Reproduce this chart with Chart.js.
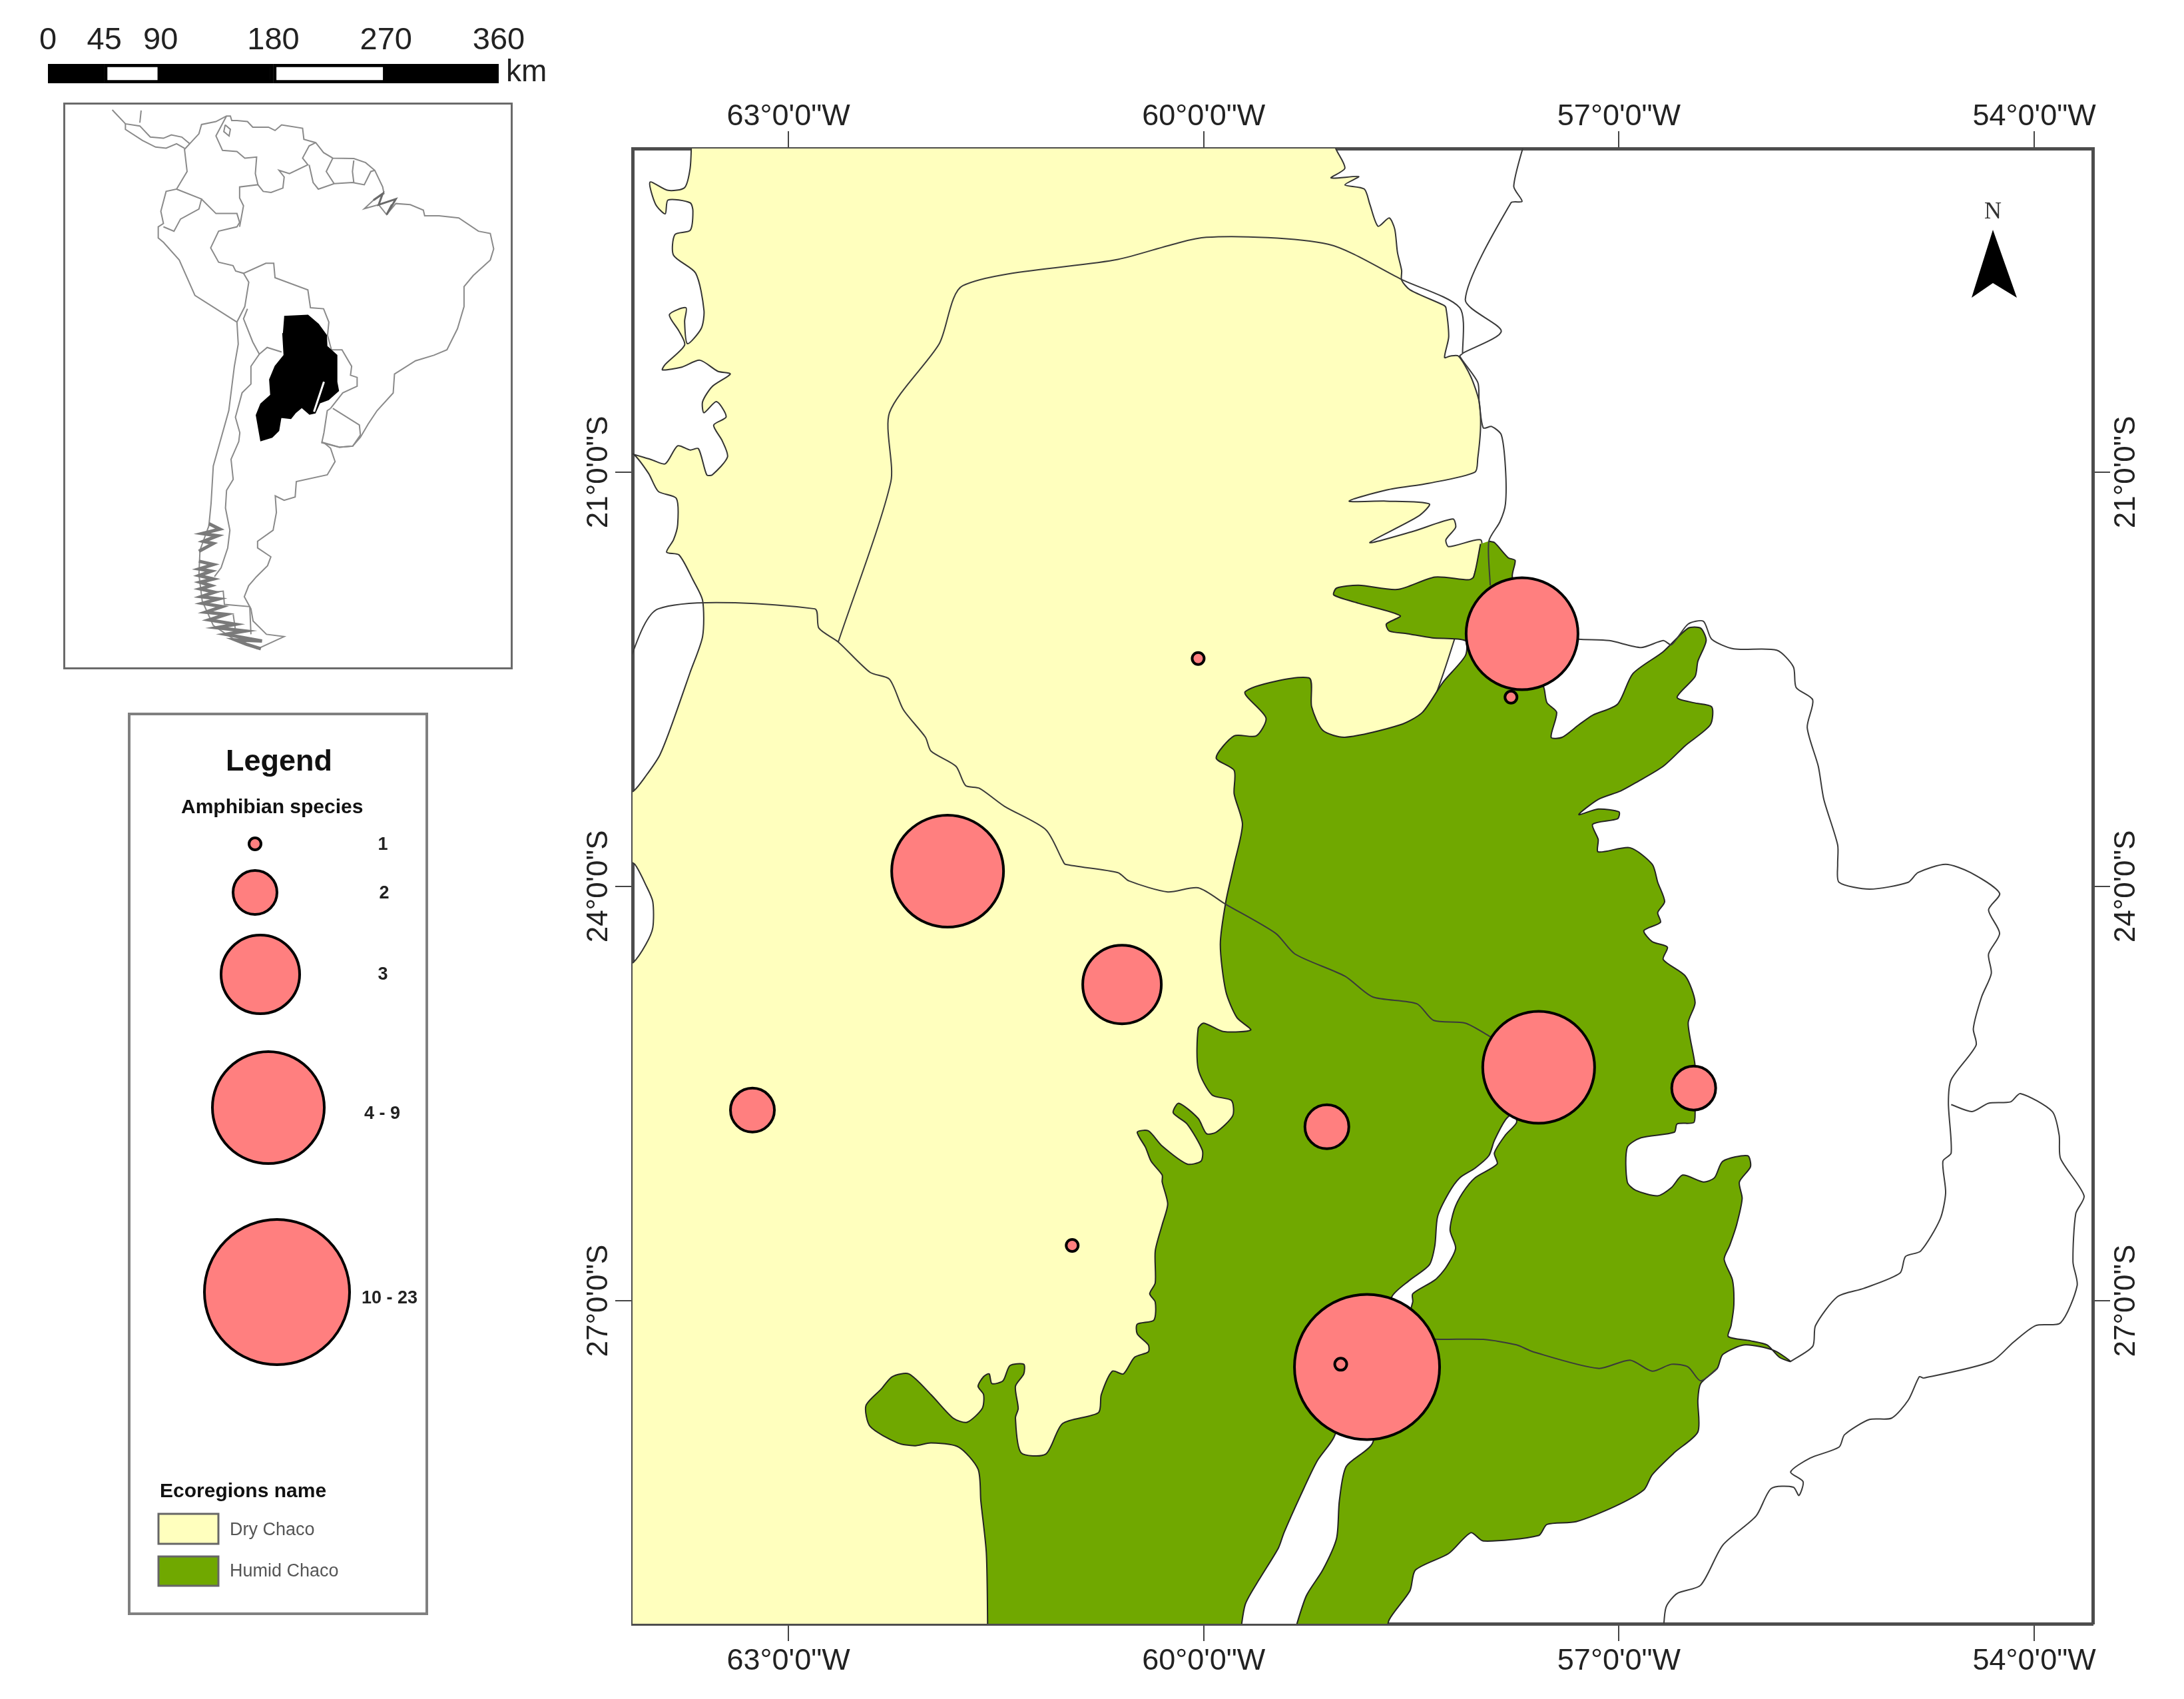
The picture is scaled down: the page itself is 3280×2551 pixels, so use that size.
<!DOCTYPE html>
<html>
<head>
<meta charset="utf-8">
<title>Amphibian species in the Chaco</title>
<script src="https://cdn.jsdelivr.net/npm/chart.js@4/dist/chart.umd.min.js"></script>
<style>
  body { margin: 0; background: #fff; }
  #page { position: relative; width: 3280px; height: 2551px; overflow: hidden; }
  canvas { position: absolute; }
  #mapChart { left: 0; top: 0; }
  #scaleBar { left: 0; top: 0; }
  #insetMap { left: 98px; top: 157px; outline: 3px solid #6a6a6a; }
</style>
</head>
<body>
<div id="page">
  <canvas id="mapChart" width="3280" height="2551"></canvas>
  <canvas id="scaleBar" width="900" height="130"></canvas>
  <canvas id="insetMap" width="669" height="845"></canvas>
</div>
<script>
// Axis ticks (degrees, south and west negative)
const lonTicks = [-63, -60, -57, -54];
const latTicks = [-21, -24, -27];

// Survey sites
const siteLon = [-58.82, -57.70, -61.85, -57.58, -60.59, -63.26, -59.11, -56.46, -57.78, -60.04, -60.95, -59.01];
const siteLat = [-27.48, -22.17, -23.89, -25.31, -24.71, -25.62, -25.74, -25.46, -22.63, -22.35, -26.60, -27.46];
const siteClass = [4, 3, 3, 3, 2, 1, 1, 1, 0, 0, 0, 0];
const classLabels = ['1', '2', '3', '4 - 9', '10 - 23'];

// Ecoregions
const dryChaco = [
  [-63.70, -18.60], [-63.71, -18.80], [-63.75, -18.94], [-63.87, -18.96], [-64.00, -18.90], [-63.96, -19.06],
  [-63.89, -19.13], [-63.87, -19.03], [-63.71, -19.05], [-63.69, -19.11], [-63.71, -19.25], [-63.82, -19.28],
  [-63.83, -19.43], [-63.67, -19.56], [-63.61, -19.83], [-63.63, -19.96], [-63.73, -20.07], [-63.75, -19.91],
  [-63.74, -19.81], [-63.86, -19.86], [-63.79, -19.98], [-63.75, -20.08], [-63.89, -20.22], [-63.91, -20.26],
  [-63.77, -20.24], [-63.64, -20.19], [-63.51, -20.27], [-63.42, -20.29], [-63.55, -20.38], [-63.62, -20.49],
  [-63.61, -20.57], [-63.52, -20.49], [-63.45, -20.60], [-63.54, -20.66], [-63.48, -20.77], [-63.44, -20.89],
  [-63.55, -21.02], [-63.59, -21.02], [-63.65, -20.83], [-63.71, -20.84], [-63.80, -20.81], [-63.89, -20.94],
  [-63.99, -20.91], [-64.20, -20.85], [-64.20, -20.87], [-64.12, -20.87], [-64.01, -21.01], [-63.94, -21.14],
  [-63.81, -21.19], [-63.80, -21.38], [-63.83, -21.49], [-63.88, -21.58], [-63.79, -21.60], [-63.69, -21.78],
  [-63.62, -21.93], [-63.62, -22.19], [-63.71, -22.45], [-63.85, -22.85], [-63.93, -23.05], [-64.03, -23.20],
  [-64.12, -23.31], [-64.20, -23.33], [-64.20, -23.78], [-64.11, -23.84], [-64.03, -23.99], [-63.98, -24.11],
  [-63.98, -24.30], [-64.03, -24.42], [-64.12, -24.55], [-64.20, -24.58], [-64.20, -29.50], [-59.50, -29.50],
  [-59.50, -24.00], [-58.50, -23.00], [-58.00, -21.60], [-58.00, -21.49], [-58.23, -21.54], [-58.25, -21.49],
  [-58.18, -21.40], [-58.20, -21.34], [-58.49, -21.43], [-58.80, -21.51], [-58.45, -21.32], [-58.37, -21.23],
  [-58.68, -21.21], [-58.95, -21.21], [-58.68, -21.13], [-58.37, -21.08], [-58.04, -21.00], [-58.02, -20.90],
  [-58.00, -20.68], [-58.01, -20.49], [-58.07, -20.31], [-58.16, -20.16], [-58.22, -20.16], [-58.26, -20.17],
  [-58.23, -20.02], [-58.25, -19.81], [-58.27, -19.79], [-58.51, -19.68], [-58.57, -19.61], [-58.57, -19.54],
  [-58.60, -19.41], [-58.62, -19.24], [-58.66, -19.16], [-58.74, -19.22], [-58.80, -19.06], [-58.84, -18.95],
  [-58.98, -18.92], [-58.88, -18.86], [-59.08, -18.87], [-58.98, -18.80], [-59.04, -18.67], [-59.07, -18.60],
  [-59.07, -18.45], [-63.70, -18.45]
];
const humidChaco = [
  [-57.94, -21.50], [-57.90, -21.51], [-57.80, -21.62], [-57.75, -21.64], [-57.77, -21.76], [-57.54, -22.57],
  [-57.52, -22.67], [-57.45, -22.74], [-57.49, -22.92], [-57.41, -22.92], [-57.29, -22.83], [-57.19, -22.76],
  [-57.01, -22.68], [-56.90, -22.46], [-56.68, -22.30], [-56.50, -22.13], [-56.41, -22.13], [-56.37, -22.22],
  [-56.43, -22.37], [-56.45, -22.48], [-56.58, -22.63], [-56.46, -22.67], [-56.33, -22.70], [-56.34, -22.83],
  [-56.52, -22.98], [-56.68, -23.13], [-56.88, -23.25], [-56.99, -23.31], [-57.15, -23.37], [-57.29, -23.48],
  [-57.15, -23.44], [-57.00, -23.46], [-57.01, -23.51], [-57.19, -23.55], [-57.15, -23.66], [-57.15, -23.75],
  [-56.92, -23.72], [-56.76, -23.84], [-56.72, -23.97], [-56.67, -24.11], [-56.72, -24.19], [-56.70, -24.26],
  [-56.82, -24.32], [-56.76, -24.40], [-56.65, -24.44], [-56.68, -24.53], [-56.52, -24.65], [-56.45, -24.84],
  [-56.50, -24.99], [-56.45, -25.30], [-56.45, -25.64], [-56.46, -25.71], [-56.58, -25.72], [-56.60, -25.78],
  [-56.84, -25.82], [-56.94, -25.89], [-56.94, -26.14], [-56.88, -26.20], [-56.72, -26.24], [-56.62, -26.18],
  [-56.54, -26.09], [-56.39, -26.14], [-56.31, -26.11], [-56.25, -25.99], [-56.07, -25.95], [-56.05, -26.03],
  [-56.13, -26.14], [-56.11, -26.26], [-56.15, -26.45], [-56.20, -26.60], [-56.24, -26.70], [-56.18, -26.85],
  [-56.17, -27.03], [-56.19, -27.18], [-56.21, -27.26], [-56.05, -27.29], [-55.93, -27.32], [-55.84, -27.41],
  [-55.76, -27.44], [-55.88, -27.36], [-56.09, -27.32], [-56.25, -27.39], [-56.29, -27.49], [-56.41, -27.60],
  [-56.43, -27.72], [-56.43, -27.95], [-56.60, -28.10], [-56.76, -28.26], [-56.82, -28.37], [-57.03, -28.49],
  [-57.31, -28.60], [-57.52, -28.62], [-57.58, -28.70], [-57.98, -28.74], [-58.07, -28.68], [-58.23, -28.83],
  [-58.47, -28.95], [-58.51, -29.10], [-58.66, -29.31], [-58.68, -29.45], [-58.68, -29.70], [-61.56, -29.70],
  [-61.56, -29.45], [-61.57, -28.83],
  [-61.61, -28.45], [-61.63, -28.22], [-61.77, -28.06], [-61.97, -28.03], [-62.09, -28.05], [-62.21, -28.03],
  [-62.41, -27.91], [-62.44, -27.76], [-62.33, -27.64], [-62.25, -27.55], [-62.13, -27.53], [-61.97, -27.68],
  [-61.81, -27.85], [-61.71, -27.88], [-61.60, -27.78], [-61.59, -27.68], [-61.63, -27.62], [-61.59, -27.55],
  [-61.55, -27.53], [-61.53, -27.60], [-61.45, -27.58], [-61.40, -27.47], [-61.30, -27.46], [-61.30, -27.53],
  [-61.36, -27.62], [-61.34, -27.78], [-61.36, -27.85], [-61.32, -28.10], [-61.14, -28.11], [-61.02, -27.89],
  [-60.76, -27.81], [-60.74, -27.68], [-60.66, -27.51], [-60.58, -27.53], [-60.50, -27.41], [-60.40, -27.37],
  [-60.40, -27.32], [-60.48, -27.24], [-60.48, -27.17], [-60.36, -27.14], [-60.35, -27.01], [-60.39, -26.95],
  [-60.35, -26.87], [-60.35, -26.64], [-60.30, -26.45], [-60.26, -26.30], [-60.30, -26.14], [-60.30, -26.09],
  [-60.38, -25.99], [-60.42, -25.89], [-60.48, -25.78], [-60.40, -25.77], [-60.30, -25.88], [-60.12, -26.01],
  [-60.02, -25.99], [-60.01, -25.91], [-60.12, -25.72], [-60.22, -25.64], [-60.18, -25.57], [-60.04, -25.68],
  [-59.98, -25.79], [-59.91, -25.78], [-59.79, -25.66], [-59.80, -25.55], [-59.94, -25.51], [-60.04, -25.32],
  [-60.04, -25.03], [-60.00, -24.99], [-59.86, -25.05], [-59.66, -25.04], [-59.76, -24.95], [-59.84, -24.76],
  [-59.88, -24.42], [-59.84, -24.11], [-59.78, -23.84], [-59.72, -23.55], [-59.78, -23.33], [-59.78, -23.16],
  [-59.91, -23.07], [-59.78, -22.91], [-59.62, -22.91], [-59.55, -22.78], [-59.70, -22.59], [-59.24, -22.49],
  [-59.22, -22.70], [-59.14, -22.87], [-58.98, -22.92], [-58.58, -22.83], [-58.42, -22.74], [-58.27, -22.52],
  [-58.11, -22.33], [-58.11, -22.22], [-58.35, -22.20], [-58.53, -22.17], [-58.66, -22.15], [-58.68, -22.10],
  [-58.58, -22.04], [-58.88, -21.95], [-59.06, -21.89], [-59.04, -21.84], [-58.88, -21.82], [-58.60, -21.85],
  [-58.33, -21.76], [-58.09, -21.78], [-58.05, -21.76], [-58.00, -21.52]
];
const parana = [
  [-59.36, -29.45], [-59.26, -29.14], [-59.14, -28.95], [-59.04, -28.72], [-59.02, -28.45], [-58.97, -28.20],
  [-58.78, -28.03], [-58.49, -27.01], [-58.49, -26.95], [-58.33, -26.85], [-58.25, -26.76], [-58.18, -26.62],
  [-58.22, -26.49], [-58.19, -26.34], [-58.13, -26.22], [-58.04, -26.11], [-57.88, -26.01], [-57.90, -25.93],
  [-57.82, -25.80], [-57.74, -25.71], [-57.76, -25.64], [-57.82, -25.69], [-57.90, -25.84], [-57.94, -25.95],
  [-58.04, -26.04], [-58.15, -26.11], [-58.23, -26.22], [-58.31, -26.39], [-58.33, -26.60], [-58.37, -26.74],
  [-58.51, -26.85], [-58.64, -26.97], [-59.06, -27.99], [-59.18, -28.16], [-59.30, -28.41], [-59.42, -28.68],
  [-59.46, -28.79], [-59.60, -29.02], [-59.70, -29.20], [-59.74, -29.45]
];

// Political boundaries
const boundaryNorth = [
  [-62.64, -22.23], [-62.26, -21.07], [-62.27, -20.57], [-61.91, -20.07], [-61.74, -19.65], [-60.62, -19.46],
  [-59.98, -19.30], [-59.10, -19.35], [-58.56, -19.61], [-58.15, -19.81], [-58.13, -20.14], [-58.15, -20.16],
  [-58.02, -20.35], [-58.01, -20.49], [-57.98, -20.68], [-57.92, -20.67], [-57.85, -20.73], [-57.82, -20.97],
  [-57.82, -21.23], [-57.86, -21.36], [-57.94, -21.50], [-57.93, -21.82]
];
const boundaryBolivia = [
  [-57.68, -18.60], [-57.76, -18.93], [-57.70, -19.04], [-57.78, -19.05], [-58.11, -19.75], [-57.85, -19.98], [-58.13, -20.14]
];
const boundaryPilcomayo = [
  [-64.20, -22.50], [-63.94, -21.99], [-62.81, -21.99], [-62.78, -22.13], [-62.64, -22.23], [-62.41, -22.45],
  [-62.27, -22.50], [-62.17, -22.72], [-62.01, -22.92], [-61.97, -23.02], [-61.79, -23.13], [-61.72, -23.27],
  [-61.62, -23.29], [-61.44, -23.42], [-61.14, -23.59], [-61.02, -23.81], [-61.00, -23.84], [-60.62, -23.90],
  [-60.54, -23.96], [-60.26, -24.04], [-60.04, -24.01], [-59.84, -24.13], [-59.48, -24.34], [-59.34, -24.49],
  [-58.98, -24.65], [-58.78, -24.80], [-58.46, -24.85], [-58.34, -24.97], [-58.11, -24.99], [-57.96, -25.07], [-57.78, -25.18]
];
const boundaryParanaEast = [
  [-58.49, -27.27], [-58.29, -27.28], [-57.98, -27.28], [-57.74, -27.32], [-57.62, -27.37], [-57.15, -27.49],
  [-56.92, -27.43], [-56.76, -27.51], [-56.62, -27.46], [-56.50, -27.48], [-56.41, -27.58], [-56.29, -27.49]
];
const boundaryParaguayEast = [
  [-57.43, -22.19], [-57.29, -22.21], [-57.07, -22.22], [-56.84, -22.27], [-56.68, -22.22], [-56.62, -22.25],
  [-56.50, -22.10], [-56.39, -22.08], [-56.33, -22.21], [-56.17, -22.28], [-55.86, -22.29], [-55.74, -22.41],
  [-55.72, -22.56], [-55.60, -22.65], [-55.64, -22.85], [-55.56, -23.13], [-55.52, -23.37], [-55.42, -23.70],
  [-55.42, -23.84], [-55.41, -23.97], [-55.19, -24.02], [-54.91, -23.97], [-54.84, -23.90], [-54.64, -23.84],
  [-54.46, -23.90], [-54.25, -24.05], [-54.33, -24.17], [-54.25, -24.34], [-54.33, -24.49], [-54.31, -24.63],
  [-54.38, -24.80], [-54.44, -25.03], [-54.42, -25.15], [-54.60, -25.40], [-54.62, -25.57], [-54.60, -25.93],
  [-54.66, -25.99], [-54.64, -26.22], [-54.68, -26.41], [-54.82, -26.64], [-54.93, -26.68], [-54.97, -26.80],
  [-55.23, -26.91], [-55.42, -26.97], [-55.58, -27.18], [-55.60, -27.33], [-55.76, -27.44]
];
const boundaryMisiones = [
  [-54.60, -25.58], [-54.45, -25.63], [-54.33, -25.57], [-54.17, -25.56], [-54.10, -25.50], [-53.87, -25.63],
  [-53.82, -25.80], [-53.81, -25.97], [-53.64, -26.24], [-53.70, -26.37], [-53.72, -26.72], [-53.69, -26.89],
  [-53.81, -27.16], [-53.99, -27.18], [-54.15, -27.30], [-54.31, -27.44], [-54.80, -27.56], [-54.83, -27.55],
  [-54.91, -27.72], [-55.03, -27.85], [-55.19, -27.86], [-55.37, -27.97], [-55.41, -28.06], [-55.62, -28.14],
  [-55.76, -28.24], [-55.67, -28.31], [-55.70, -28.41], [-55.74, -28.35], [-55.90, -28.36], [-56.01, -28.56],
  [-56.25, -28.77], [-56.41, -29.06], [-56.58, -29.12], [-56.66, -29.22], [-56.68, -29.41]
];

// Scale bar
const scaleTicks = [0, 45, 90, 180, 270, 360];
const scaleSegments = [45, 45, 90, 90, 90];

// Inset: South America
const insetCoast = [
  [-76.93, 8.76], [-75.65, 10.03], [-75.29, 11.21], [-73.29, 11.58], [-71.83, 12.29], [-71.29, 12.29], [-71.10, 11.72], [-70.38, 11.72],
  [-68.92, 11.58], [-68.19, 10.87], [-66.01, 10.87], [-65.10, 10.45], [-64.19, 11.16], [-61.28, 10.73], [-61.10, 9.32], [-59.46, 8.90],
  [-58.37, 7.63], [-57.09, 6.93], [-54.18, 6.87], [-52.55, 6.36], [-51.27, 5.37], [-50.18, 3.26], [-50.00, 2.41], [-51.45, 1.57],
  [-52.73, 0.49], [-50.73, 1.0], [-49.63, -0.27], [-48.36, 1.14], [-46.36, 1.0], [-44.54, 0.30], [-44.36, -0.41], [-42.36, -0.41],
  [-39.63, -0.69], [-36.90, -2.38], [-35.26, -2.67], [-34.79, -4.64], [-35.26, -6.05], [-37.63, -8.03], [-38.90, -9.44], [-38.90, -11.98],
  [-39.81, -14.80], [-41.27, -17.48], [-43.08, -18.18], [-45.63, -18.89], [-48.54, -20.58], [-48.72, -22.98], [-50.95, -25.23], [-52.18, -26.92],
  [-53.26, -28.62], [-54.33, -29.75], [-56.17, -29.89], [-58.32, -29.32], [-57.40, -30.03], [-56.78, -31.72], [-57.86, -33.41], [-62.15, -34.26],
  [-62.31, -36.23], [-63.84, -36.66], [-65.07, -36.09], [-64.91, -38.21], [-65.37, -40.47], [-67.52, -41.88], [-67.52, -42.72], [-65.68, -43.85],
  [-66.14, -44.98], [-67.68, -46.39], [-68.75, -47.52], [-69.36, -48.93], [-68.44, -50.48], [-68.14, -52.03], [-66.29, -53.72], [-63.84, -54.01],
  [-67.52, -55.56], [-70.90, -54.29], [-73.66, -52.60], [-75.19, -49.49], [-75.65, -46.11], [-75.50, -43.00], [-74.27, -39.90], [-73.97, -37.08],
  [-73.66, -32.28], [-71.51, -25.23], [-70.74, -19.59], [-70.20, -16.77], [-70.38, -13.95], [-76.20, -10.56], [-78.38, -6.05], [-80.57, -3.79],
  [-81.29, -3.23], [-81.29, -1.82], [-80.57, -1.40], [-80.93, 0.15], [-80.20, 2.69], [-78.75, 2.98], [-77.29, 5.23], [-77.65, 8.05], [-76.93, 8.76]
];
const insetBorders = [
  [[-87.66, 13.07], [-85.84, 11.30], [-83.84, 11.02], [-82.39, 9.61], [-80.57, 9.46], [-79.47, 9.89], [-78.02, 9.61], [-76.93, 8.76]],
  [[-85.84, 11.30], [-85.84, 10.59], [-83.48, 9.18], [-81.66, 8.34], [-80.20, 8.19], [-78.75, 8.76], [-77.65, 8.19]],
  [[-83.66, 12.99], [-83.84, 11.44]],
  [[-78.75, 2.98], [-75.29, 1.71], [-75.65, 0.44], [-78.20, -0.83], [-79.11, -2.38], [-80.57, -1.82]],
  [[-75.29, 1.71], [-73.29, -0.13], [-70.38, -0.13], [-70.01, -1.26], [-70.38, -1.82], [-72.92, -2.38], [-74.02, -4.50], [-72.92, -6.33],
   [-70.92, -6.76], [-70.56, -7.46], [-69.47, -7.74], [-66.37, -6.47], [-65.28, -6.47], [-65.10, -8.31], [-60.55, -9.86], [-60.19, -12.12],
   [-58.37, -12.26], [-57.64, -13.95], [-57.82, -15.64], [-57.28, -17.48], [-55.82, -17.48], [-54.48, -19.59], [-54.64, -20.72], [-53.72, -21.0],
   [-53.72, -22.13], [-55.71, -22.97], [-57.40, -24.95]],
  [[-71.83, 12.29], [-73.29, 9.75], [-72.38, 7.91], [-70.38, 7.77], [-69.29, 6.93], [-67.65, 7.07], [-67.83, 4.95], [-67.47, 3.54],
   [-70.01, 3.26], [-70.01, 1.85], [-69.47, 0.86], [-70.01, -1.82]],
  [[-72.01, 11.16], [-71.29, 10.59], [-71.47, 9.75], [-72.20, 10.31], [-72.01, 11.16]],
  [[-67.47, 3.54], [-66.74, 2.69], [-65.65, 2.55], [-64.01, 3.12], [-63.83, 4.53], [-64.55, 5.37], [-63.10, 4.95], [-60.55, 6.08],
   [-61.28, 6.93], [-60.37, 8.48], [-59.46, 8.90]],
  [[-60.37, 6.08], [-59.82, 3.82], [-59.10, 2.98], [-56.91, 3.68], [-54.37, 3.82], [-52.73, 3.54], [-51.82, 5.23], [-51.27, 5.37]],
  [[-57.09, 6.93], [-58.00, 5.23], [-56.91, 3.68]],
  [[-54.18, 6.64], [-54.37, 5.23], [-54.18, 3.82]],
  [[-69.47, -7.74], [-68.74, -8.87], [-69.29, -11.98], [-70.38, -13.95]],
  [[-68.92, -12.26], [-69.47, -13.53], [-68.19, -16.49], [-67.28, -18.04], [-66.19, -17.19], [-64.19, -17.76]],
  [[-67.28, -18.04], [-68.44, -19.59], [-68.44, -21.85], [-69.67, -22.97], [-70.59, -26.08], [-69.98, -28.05], [-70.13, -29.18], [-71.20, -31.44],
   [-70.90, -33.98], [-71.82, -35.39], [-71.97, -37.64], [-71.36, -40.47], [-71.66, -42.72], [-72.58, -45.26], [-73.50, -46.39]],
  [[-57.40, -24.95], [-57.86, -25.23], [-58.32, -28.05], [-58.62, -29.32], [-56.17, -29.89], [-54.33, -29.75], [-53.26, -28.34], [-53.41, -27.07], [-57.09, -24.95]],
  [[-73.66, -48.36], [-72.28, -48.22], [-72.12, -49.92], [-68.60, -50.20], [-68.44, -53.72]],
  [[-70.90, -51.18], [-70.59, -53.16]]
];
const insetArchipelago = [
  [[-74.27, -39.62], [-72.74, -40.33], [-75.19, -40.89], [-73.04, -41.17], [-75.04, -41.88], [-73.66, -42.16], [-75.65, -43.15]],
  [[-75.65, -44.41], [-73.66, -44.84], [-75.65, -45.40], [-73.96, -45.68], [-75.65, -46.25], [-73.66, -46.67], [-75.50, -47.09], [-73.96, -47.52],
   [-75.50, -47.94], [-73.50, -48.36], [-75.35, -48.93], [-72.89, -49.21], [-75.19, -49.78], [-72.43, -50.20], [-74.73, -50.90], [-71.82, -51.18],
   [-74.27, -51.89], [-70.59, -52.45], [-73.20, -52.88], [-69.21, -53.30], [-71.97, -53.72], [-66.91, -54.57], [-70.59, -54.43], [-69.06, -54.99],
   [-67.06, -55.56]]
];
const insetDelta = [[-51.45, 1.57], [-50.18, 2.41], [-50.73, 1.0], [-48.36, 1.71], [-49.63, -0.27], [-48.90, 1.0]];
const insetChaco = [
  [-63.83, -13.25], [-60.55, -13.10], [-59.10, -14.23], [-58.00, -15.64], [-57.93, -17.05], [-56.55, -18.18], [-56.55, -21.57], [-56.32, -22.69],
  [-57.70, -23.82], [-58.93, -24.24], [-59.55, -25.51], [-60.31, -25.66], [-61.39, -24.81], [-62.31, -25.51], [-62.92, -26.22], [-64.30, -26.08],
  [-64.61, -27.77], [-65.53, -28.62], [-67.06, -29.04], [-67.68, -25.80], [-67.06, -24.39], [-65.68, -23.26], [-65.83, -21.28], [-65.07, -19.59],
  [-63.83, -18.18], [-64.01, -15.36]
];
const insetSliver = [[-58.32, -21.56], [-59.70, -25.37]];

const DRY = '#FFFFBE';
const HUMID = '#70A800';
const SITE = '#FF7F7F';
const AXIS = '#4d4d4d';
const classRadius = [9, 33, 59, 84, 109];
const FONT = '"Liberation Sans", Arial, sans-serif';
const CURVE = 0.25;

function toXY(list) {
  return list.map(function (p) { return { x: p[0], y: p[1] }; });
}
function polygon(list, fillColor, lineColor, width, tension) {
  return {
    data: toXY(list), showLine: true, fill: 'shape', backgroundColor: fillColor,
    borderColor: lineColor, borderWidth: width, pointRadius: 0, tension: tension
  };
}
function boundary(list) {
  return {
    data: toXY(list), showLine: true, fill: false,
    borderColor: '#3a3a3a', borderWidth: 2, pointRadius: 0, tension: CURVE
  };
}
function insetLine(list, color, width) {
  return {
    data: toXY(list), showLine: true, fill: false,
    borderColor: color, borderWidth: width, pointRadius: 0, tension: 0
  };
}

// Legend panel and north arrow are map furniture, painted around the chart
const furniture = {
  id: 'furniture',
  afterDraw: function (chart) {
    const ctx = chart.ctx;
    ctx.save();

    // north arrow
    ctx.fillStyle = '#000';
    ctx.beginPath();
    ctx.moveTo(2993, 345); ctx.lineTo(3029, 447); ctx.lineTo(2993, 425); ctx.lineTo(2961, 447);
    ctx.closePath();
    ctx.fill();
    ctx.fillStyle = '#333';
    ctx.font = '36px "Liberation Serif", serif';
    ctx.textAlign = 'center';
    ctx.fillText('N', 2993, 328);

    // legend box
    ctx.strokeStyle = '#808080';
    ctx.lineWidth = 4;
    ctx.strokeRect(194, 1072, 447, 1351);

    ctx.fillStyle = '#111';
    ctx.font = 'bold 45px ' + FONT;
    ctx.fillText('Legend', 419, 1157);
    ctx.textAlign = 'left';
    ctx.font = 'bold 30px ' + FONT;
    ctx.fillText('Amphibian species', 272, 1221);
    ctx.fillText('Ecoregions name', 240, 2248);

    const keyX = [383, 383, 391, 403, 416];
    const keyY = [1267, 1340, 1463, 1663, 1940];
    const labelX = [575, 577, 575, 574, 585];
    const labelY = [1276, 1349, 1471, 1680, 1957];
    ctx.textAlign = 'center';
    ctx.font = 'bold 27px ' + FONT;
    classLabels.forEach(function (label, i) {
      ctx.beginPath();
      ctx.arc(keyX[i], keyY[i], classRadius[i], 0, Math.PI * 2);
      ctx.fillStyle = SITE;
      ctx.fill();
      ctx.strokeStyle = '#000';
      ctx.lineWidth = 4;
      ctx.stroke();
      ctx.fillStyle = '#222';
      ctx.fillText(label, labelX[i], labelY[i]);
    });

    ctx.strokeStyle = '#666';
    ctx.lineWidth = 3;
    ctx.fillStyle = DRY;
    ctx.fillRect(238, 2273, 90, 45);
    ctx.strokeRect(238, 2273, 90, 45);
    ctx.fillStyle = HUMID;
    ctx.fillRect(238, 2337, 90, 44);
    ctx.strokeRect(238, 2337, 90, 44);
    ctx.fillStyle = '#555';
    ctx.textAlign = 'left';
    ctx.font = '27px ' + FONT;
    ctx.fillText('Dry Chaco', 345, 2305);
    ctx.fillText('Humid Chaco', 345, 2367);
    ctx.restore();
  }
};

function lonLabel(v) { return Math.abs(v) + '°0\'0"W'; }
function latLabel(v) { return Math.abs(v) + '°0\'0"S'; }

function lonAxis(position, pad) {
  return {
    axis: 'x', type: 'linear', position: position, min: -64.126, max: -53.577,
    afterBuildTicks: function (scale) { scale.ticks = lonTicks.map(function (v) { return { value: v }; }); },
    afterFit: function (scale) { scale.height = 100; },
    border: { display: true, color: AXIS, width: 5 },
    grid: { drawOnChartArea: false, tickLength: 26, tickColor: '#444', lineWidth: 2 },
    ticks: { autoSkip: false, maxRotation: 0, color: '#222', padding: pad, font: { family: FONT, size: 45 }, callback: lonLabel }
  };
}
function latAxis(position) {
  return {
    axis: 'y', type: 'linear', position: position, min: -29.339, max: -18.657,
    afterBuildTicks: function (scale) { scale.ticks = latTicks.map(function (v) { return { value: v }; }); },
    afterFit: function (scale) { scale.width = 100; },
    border: { display: true, color: AXIS, width: 5 },
    grid: { drawOnChartArea: false, tickLength: 26, tickColor: '#444', lineWidth: 2 },
    // rotated labels: crossAlign center pushes them out by half their length, negative padding pulls them back
    ticks: {
      autoSkip: false, minRotation: 90, maxRotation: 90, crossAlign: 'center', padding: -60, color: '#222',
      font: { family: FONT, size: 44 }, callback: latLabel
    }
  };
}

document.addEventListener('DOMContentLoaded', function () {
  const sites = {
    data: siteLon.map(function (lon, i) { return { x: lon, y: siteLat[i] }; }),
    backgroundColor: SITE, borderColor: '#000', borderWidth: 4,
    pointRadius: function (c) { return classRadius[siteClass[c.dataIndex]]; },
    pointHoverRadius: function (c) { return classRadius[siteClass[c.dataIndex]]; }
  };

  // first dataset paints last, so this list runs from top layer to bottom layer
  new Chart(document.getElementById('mapChart'), {
    type: 'scatter',
    data: {
      datasets: [
        sites,
        boundary(boundaryNorth), boundary(boundaryBolivia), boundary(boundaryPilcomayo),
        boundary(boundaryParanaEast), boundary(boundaryParaguayEast), boundary(boundaryMisiones),
        polygon(parana, '#ffffff', '#222', 2, CURVE),
        polygon(humidChaco, HUMID, '#222', 2, CURVE),
        polygon(dryChaco, DRY, '#333', 2, CURVE)
      ]
    },
    options: {
      responsive: false, animation: false, devicePixelRatio: 1, events: [],
      layout: { padding: { left: 850, top: 123, right: 37, bottom: 8 } },
      plugins: { legend: { display: false }, tooltip: { enabled: false } },
      scales: {
        x: lonAxis('bottom', 4), xTop: lonAxis('top', -6),
        y: latAxis('left'), yRight: latAxis('right')
      }
    },
    plugins: [furniture]
  });

  // Scale bar: stacked horizontal bar on a km axis
  const kmLabel = {
    id: 'kmLabel',
    afterDraw: function (chart) {
      const ctx = chart.ctx;
      ctx.save();
      ctx.fillStyle = '#222';
      ctx.font = '46px ' + FONT;
      ctx.textAlign = 'left';
      ctx.fillText('km', 760, 122);
      ctx.restore();
    }
  };
  new Chart(document.getElementById('scaleBar'), {
    type: 'bar',
    data: {
      labels: ['km'],
      datasets: scaleSegments.map(function (v, i) {
        return {
          data: [v], backgroundColor: i % 2 ? '#fff' : '#000', borderColor: '#000', borderWidth: 5,
          borderSkipped: false, barPercentage: 1, categoryPercentage: 1
        };
      })
    },
    options: {
      indexAxis: 'y', responsive: false, animation: false, devicePixelRatio: 1, events: [],
      layout: { padding: { left: 72, right: 151, top: 0, bottom: 5 } },
      plugins: { legend: { display: false }, tooltip: { enabled: false } },
      scales: {
        x: {
          type: 'linear', position: 'top', min: 0, max: 360, stacked: true,
          afterBuildTicks: function (scale) { scale.ticks = scaleTicks.map(function (v) { return { value: v }; }); },
          afterFit: function (scale) { scale.height = 96; },
          border: { display: false },
          grid: { display: false },
          ticks: { autoSkip: false, maxRotation: 0, padding: -1, color: '#222', font: { family: FONT, size: 47 } }
        },
        y: { display: false, stacked: true }
      }
    },
    plugins: [kmLabel]
  });

  // Inset locator map
  const insetSets = [insetLine(insetSliver, '#ffffff', 3), polygon(insetChaco, '#000', '#000', 2, 0)];
  insetArchipelago.forEach(function (line) { insetSets.push(insetLine(line, '#7a7a7a', 5)); });
  insetSets.push(insetLine(insetDelta, '#6a6a6a', 3));
  insetBorders.forEach(function (line) { insetSets.push(insetLine(line, '#8a8a8a', 2)); });
  insetSets.push(insetLine(insetCoast, '#8a8a8a', 2));
  new Chart(document.getElementById('insetMap'), {
    type: 'scatter',
    data: { datasets: insetSets },
    options: {
      responsive: false, animation: false, devicePixelRatio: 1, events: [],
      plugins: { legend: { display: false }, tooltip: { enabled: false } },
      scales: {
        x: { type: 'linear', display: false, min: -94.18, max: -32.43 },
        y: { type: 'linear', display: false, min: -57.93, max: 13.75 }
      }
    }
  });
});
</script>
</body>
</html>
